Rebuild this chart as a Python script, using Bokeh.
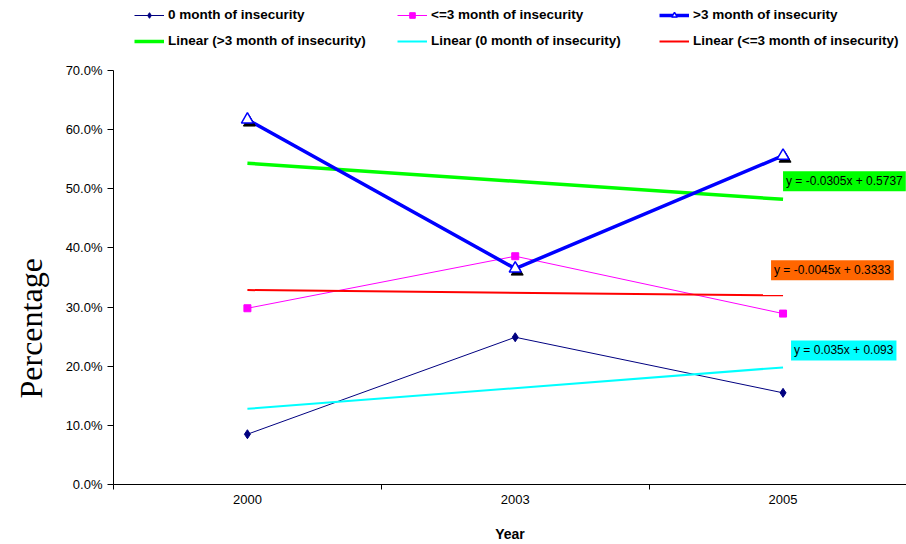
from bokeh.plotting import figure
from bokeh.models import (Range1d, FixedTicker, Legend, LegendItem, Label,
                          NumeralTickFormatter, Title)
from bokeh.embed import file_html
from bokeh.resources import INLINE

# ---- data -------------------------------------------------------------
years = ["2000", "2003", "2005"]
x_pos = [1, 2, 3]
zero_month = [0.085, 0.249, 0.155]      # 0 month of insecurity
upto3_month = [0.298, 0.386, 0.289]     # <=3 month of insecurity
over3_month = [0.617, 0.365, 0.556]     # >3 month of insecurity

# linear trend lines (slope, intercept) on x = 1..3
trend_over3 = (-0.0305, 0.5737)
trend_zero = (0.035, 0.093)
trend_upto3 = (-0.0045, 0.3333)

y_ticks = [0.0, 0.1, 0.2, 0.3, 0.4, 0.5, 0.6, 0.7]
x_bounds = [0.5, 1.5, 2.5, 3.5]

FONT = "Liberation Sans"
X0, X1 = 0.5, 3.461
Y0, Y1 = 0.0, 0.8184

p = figure(width=906, height=544, output_backend="svg", toolbar_location=None,
           x_range=Range1d(X0, X1), y_range=Range1d(Y0, Y1),
           min_border_left=111, min_border_right=0, min_border_top=0,
           min_border_bottom=60)
p.xgrid.visible = False
p.ygrid.visible = False
p.outline_line_color = None
p.background_fill_color = "white"

# shifted ranges used for the drop shadow under the triangle markers
px_x = (X1 - X0) / 795.0
px_y = (Y1 - Y0) / 484.0
p.extra_x_ranges = {"shadow_x": Range1d(X0 - 2 * px_x, X1 - 2 * px_x)}
p.extra_y_ranges = {"shadow_y": Range1d(Y0 + 3 * px_y, Y1 + 3 * px_y)}

def trend(coef):
    m, b = coef
    return [m * x_pos[0] + b, m * x_pos[-1] + b]

tx = [x_pos[0], x_pos[-1]]

# series
r0 = p.line(x_pos, zero_month, line_color="#000080", line_width=1)
r0m = p.scatter(x_pos, zero_month, marker="diamond", size=9,
                fill_color="#000080", line_color="#000080")
r1 = p.line(x_pos, upto3_month, line_color="#FF00FF", line_width=1)
r1m = p.scatter(x_pos, upto3_month, marker="square", size=7,
                fill_color="#FF00FF", line_color="#FF00FF")

# trend lines
rt_over3 = p.line(tx, trend(trend_over3), line_color="#00FF00", line_width=3.5)
rt_zero = p.line(tx, trend(trend_zero), line_color="#00FFFF", line_width=2)
rt_upto3 = p.line(tx, trend(trend_upto3), line_color="#FF0000", line_width=2)

r2 = p.line(x_pos, over3_month, line_color="#0000FF", line_width=3.5)
p.scatter(x_pos, over3_month, marker="triangle", size=12,
          fill_color="black", line_color="black",
          x_range_name="shadow_x", y_range_name="shadow_y")
r2m = p.scatter(x_pos, over3_month, marker="triangle", size=12,
                fill_color="white", line_color="#0000FF", line_width=1.5)

# axes
xa = p.xaxis[0]
xa.ticker = FixedTicker(ticks=x_pos, minor_ticks=x_bounds)
xa.major_label_overrides = {x: y for x, y in zip(x_pos, years)}
xa.major_tick_out = 0
xa.major_tick_in = 0
xa.minor_tick_out = 5
xa.minor_tick_in = 0
xa.minor_tick_line_color = "black"
xa.axis_line_color = "black"
xa.major_label_standoff = 5
xa.major_label_text_font = FONT
xa.major_label_text_font_size = "13px"
xa.major_label_text_color = "black"
xa.axis_label = "Year"
xa.axis_label_text_font = FONT
xa.axis_label_text_font_style = "bold"
xa.axis_label_text_font_size = "14px"
xa.axis_label_text_color = "black"
xa.axis_label_standoff = 19

ya = p.yaxis[0]
ya.ticker = FixedTicker(ticks=y_ticks)
ya.formatter = NumeralTickFormatter(format="0.0%")
ya.bounds = (0, 0.7)
ya.major_tick_out = 6
ya.major_tick_in = 0
ya.minor_tick_line_color = None
ya.axis_line_color = "black"
ya.major_label_standoff = 5
ya.major_label_text_font = FONT
ya.major_label_text_font_size = "13px"
ya.major_label_text_color = "black"

# vertical title on the left, starting a bit above the x axis
p.add_layout(Title(text="Percentage", align="left", offset=86,
                   vertical_align="top",
                   text_font="Liberation Serif", text_font_size="32px",
                   text_font_style="normal", text_color="black",
                   standoff=24), "left")

# trend equations
eqs = [
    (trend_over3, "y = -0.0305x + 0.5737", "#00FF00", 0, 18),
    (trend_upto3, "y = -0.0045x + 0.3333", "#FF6600", -12, 25),
    (trend_zero, "y = 0.035x + 0.093", "#00FFFF", 8, 17),
]
for coef, txt, bg, dx, dy in eqs:
    p.add_layout(Label(x=x_pos[-1], y=trend(coef)[1], x_offset=dx, y_offset=dy,
                       text=txt, text_font=FONT, text_font_size="12px",
                       text_color="black", text_baseline="middle",
                       background_fill_color=bg, padding=3))

# legend, three columns of two rows
columns = [
    (21, [("0 month of insecurity", [r0, r0m]),
          ("Linear (>3 month of insecurity)", [rt_over3])]),
    (284, [("<=3 month of insecurity", [r1, r1m]),
           ("Linear (0 month of insecurity)", [rt_zero])]),
    (546, [(">3 month of insecurity", [r2, r2m]),
           ("Linear (<=3 month of insecurity)", [rt_upto3])]),
]
for xloc, items in columns:
    lg = Legend(items=[LegendItem(label=l, renderers=r) for l, r in items],
                location=(xloc, 436), orientation="vertical",
                background_fill_alpha=0, border_line_color=None,
                padding=0, margin=0, spacing=11, glyph_width=30,
                glyph_height=14, label_height=14, label_standoff=4,
                label_text_font=FONT, label_text_font_size="13.5px",
                label_text_font_style="bold", label_text_color="black")
    p.add_layout(lg, "center")

open("out.html", "w").write(file_html(p, INLINE))
